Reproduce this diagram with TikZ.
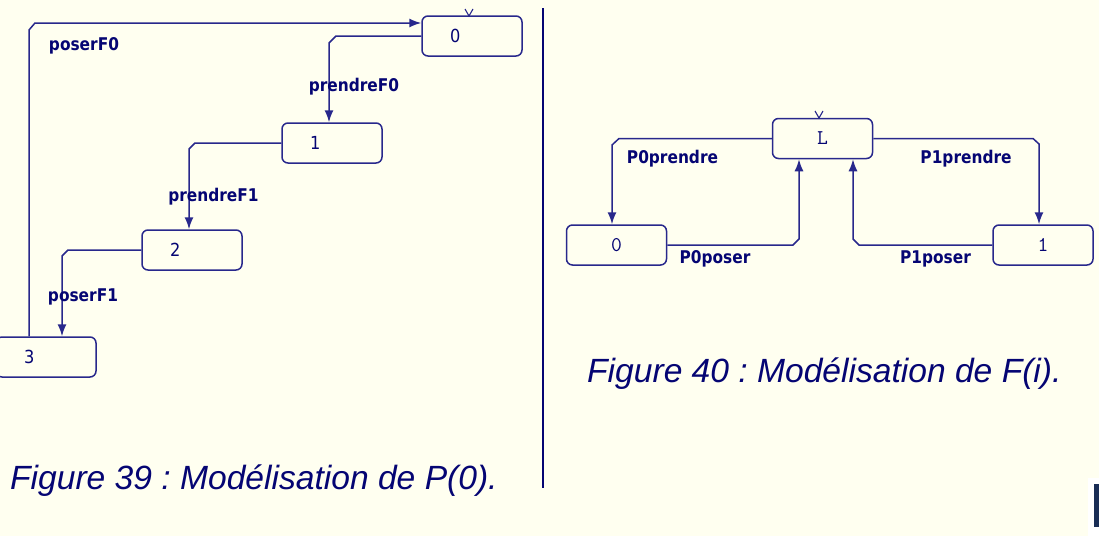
\documentclass[tikz,border=0pt]{standalone}
\usepackage{fontspec}
\setmainfont{Liberation Sans}
\newfontfamily\lblfont{DejaVu Sans}[FakeStretch=0.88]
\newfontfamily\numfont{DejaVu Sans}[FakeStretch=0.9]
\usetikzlibrary{arrows.meta}
\definecolor{bgc}{RGB}{255,255,240}
\definecolor{linec}{RGB}{40,40,140}
\definecolor{textc}{RGB}{5,5,115}
\definecolor{boxc}{RGB}{25,45,85}
\tikzset{
  statebox/.style={draw=linec, line width=1.5pt, rounded corners=6pt, fill=bgc,
    minimum width=100pt, minimum height=40pt, inner sep=0pt, text=textc},
  lstate/.style={statebox, align=left, text width=44pt, inner xsep=28pt,
    font=\numfont\fontsize{18}{20}\selectfont},
  rstate/.style={statebox, font=\ttfamily\fontsize{21}{23}\selectfont},
  edge/.style={draw=linec, line width=1.5pt, -{Latex[length=12pt,width=9pt]}},
  elabel/.style={text=textc, inner sep=0pt, font=\lblfont\bfseries\fontsize{17.5}{19}\selectfont},
  initmark/.style={draw=linec, line width=1.1pt},
  caption/.style={text=textc, inner sep=0pt, anchor=base west,
    font=\frenchspacing\itshape\fontsize{33.6}{40}\selectfont}
}
\begin{document}
\begin{tikzpicture}[x=1pt,y=-1pt]
\useasboundingbox (0,0) rectangle (1099,536);
\fill[bgc] (0,0) rectangle (1099,536);

% ---- left figure ----
\node[lstate] (A0) at (472,36) {0};
\node[lstate] (A1) at (332,143) {1};
\node[lstate] (A2) at (192,250) {2};
\node[lstate] (A3) at (46,357) {3};
\draw[initmark] (465,9) -- (469,16) -- (473,9);

\draw[edge] (A3.north -| 29,0) -- (29,30) -- (35,23) -- (A0.west |- 0,23);
\draw[edge] (A0.west) -- (336,36) -- (329,43) -- (A1.north -| 329,0);
\draw[edge] (A1.west) -- (195,143) -- (189,149) -- (A2.north -| 189,0);
\draw[edge] (A2.west) -- (68,250) -- (62,256) -- (A3.north -| 62,0);

\node[elabel] (lposerF0) at (84,46) {poserF0};
\node[elabel] (lprendreF0) at (354,87) {prendreF0};
\node[elabel] (lprendreF1) at (213.5,197) {prendreF1};
\node[elabel] (lposerF1) at (83,297) {poserF1};

\node[caption] (cap1) at (10,489) {Figure 39 : Modélisation de P(0).};

% divider
\draw[draw=textc, line width=2pt] (543,8) -- (543,488);

% ---- right figure ----
\node[rstate] (L) at (822.5,138.5) {L};
\node[rstate] (B0) at (616.5,245) {0};
\node[rstate] (B1) at (1043,245) {1};
\draw[initmark] (815,111) -- (819,118) -- (823,111);

\draw[edge] (L.west) -- (619,138.5) -- (612,145) -- (B0.north -| 612,0);
\draw[edge] (L.east) -- (1033,138.5) -- (1039,144) -- (B1.north -| 1039,0);
\draw[edge] (B0.east) -- (793,245) -- (799,239) -- (L.south -| 799,0);
\draw[edge] (B1.west) -- (859,245) -- (853,239) -- (L.south -| 853,0);

\node[elabel] (lP0prendre) at (672.5,159) {P0prendre};
\node[elabel] (lP1prendre) at (966,159) {P1prendre};
\node[elabel] (lP0poser) at (715,259) {P0poser};
\node[elabel] (lP1poser) at (935.5,259) {P1poser};

\node[caption] (cap2) at (587,382) {Figure 40 : Modélisation de F(i).};

% corner mark
\fill[white] (1088,478) rectangle (1099,536);
\fill[boxc] (1094,484) rectangle (1099,527);
\end{tikzpicture}
\end{document}
